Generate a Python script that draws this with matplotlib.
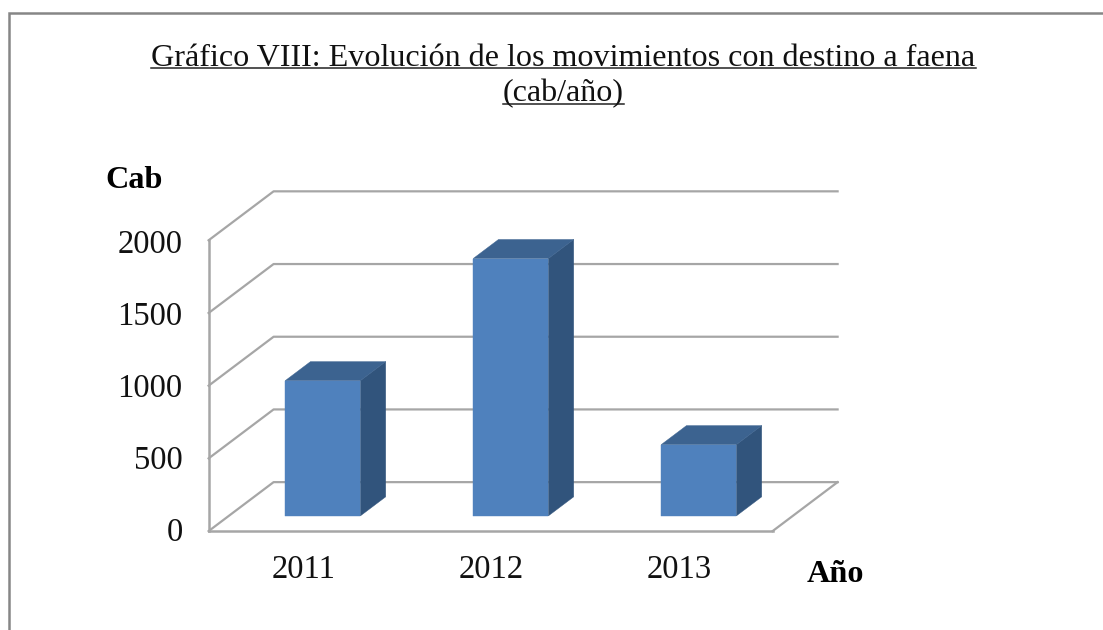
import matplotlib
matplotlib.use('Agg')
import matplotlib.pyplot as plt
from matplotlib.lines import Line2D
from matplotlib.patches import Polygon

# Data
years = ['2011', '2012', '2013']
cabezas = [930, 1770, 490]
y_ticks = [0, 500, 1000, 1500, 2000]

W, H = 1103, 630
grid_color = '#a6a6a6'
front_color = '#4f81bd'
top_color = '#3c6390'
side_color = '#31547c'

plt.rcParams['font.family'] = ['Liberation Serif']

fig = plt.figure(figsize=(W / 100, H / 100), dpi=100)

# Axes = front plane of the fake 3D box, in pixels of the picture
left, right, top, bottom = 208.6, 772.6, 240.3, 531.1
ax = fig.add_axes([left / W, 1 - bottom / H, (right - left) / W, (bottom - top) / H])
ax.set_xlim(0, 3)
ax.set_ylim(0, 2000)
ax.axis('off')

# Depth of the box as an offset in data units
depth_x = 65 / 188
depth_y = 49 / 291 * 2000


def shift(x, y, d):
    return (x + d * depth_x, y + d * depth_y)


# Walls and gridlines
for t in y_ticks:
    x0, y0 = shift(0, t, 0)
    x1, y1 = shift(0, t, 1)
    x2, y2 = shift(3, t, 1)
    ax.plot([x0, x1, x2], [y0, y1, y2], color=grid_color, lw=1.6, clip_on=False)

# Front edge of floor and left axis
ax.plot([0, 0], [0, 2000], color=grid_color, lw=1.8, clip_on=False)
ax.plot([0, 3], [0, 0], color=grid_color, lw=1.8, clip_on=False)
ax.plot([3, 3 + depth_x], [0, depth_y], color=grid_color, lw=1.6, clip_on=False)

# Bars
bar_w = 0.4
d0 = 0.31
d1 = 0.70
for i, val in enumerate(cabezas):
    xl = i + 0.5 - bar_w / 2
    xr = i + 0.5 + bar_w / 2
    side = [shift(xr, 0, d0), shift(xr, 0, d1), shift(xr, val, d1), shift(xr, val, d0)]
    tp = [shift(xl, val, d0), shift(xr, val, d0), shift(xr, val, d1), shift(xl, val, d1)]
    front = [shift(xl, 0, d0), shift(xr, 0, d0), shift(xr, val, d0), shift(xl, val, d0)]
    ax.add_patch(Polygon(side, closed=True, fc=side_color, ec=side_color, lw=0.3, zorder=3, clip_on=False))
    ax.add_patch(Polygon(tp, closed=True, fc=top_color, ec=top_color, lw=0.3, zorder=3, clip_on=False))
    ax.add_patch(Polygon(front, closed=True, fc=front_color, ec=front_color, lw=0.3, zorder=4, clip_on=False))

# Tick labels, their spacing is a little tighter than the gridlines
for t in y_ticks:
    ax.annotate(str(t), (0, t), xytext=(-26, -1.5 - 2.5 * t / 2000), textcoords='offset pixels', ha='right',
                va='center', fontsize=23.5, color='#111111', annotation_clip=False)
for i, year in enumerate(years):
    ax.annotate(year, (i + 0.5, 0), xytext=(1, -39), textcoords='offset pixels', ha='center',
                va='center', fontsize=23.5, color='#111111', annotation_clip=False)

# Axis names
fig.text(134 / W, 1 - 180 / H, 'Cab', ha='center', va='center', fontsize=23.2, fontweight='bold')
fig.text(835 / W, 1 - 574 / H, 'Año', ha='center', va='center', fontsize=23.2, fontweight='bold')

# Title, underlined by hand
title_lines = ['Gráfico VIII: Evolución de los movimientos con destino a faena', '(cab/año)']
title_y = [58, 94]
under_y = [67.5, 104]
fig.canvas.draw()
for line, ty, uy in zip(title_lines, title_y, under_y):
    txt = fig.text(563.5 / W, 1 - ty / H, line, ha='center', va='center', fontsize=23.1, color='#111111')
    box = txt.get_window_extent(fig.canvas.get_renderer())
    fig.add_artist(Line2D([box.x0 / W, box.x1 / W], [1 - uy / H, 1 - uy / H],
                          color='#222222', lw=1.1, transform=fig.transFigure))

# Outer frame, only left and top fall inside the picture
fig.add_artist(Line2D([9 / W, 9 / W, 1], [0, 1 - 13 / H, 1 - 13 / H], color='#868686', lw=1.8,
                      transform=fig.transFigure, solid_joinstyle='miter'))

fig.savefig('out.png', dpi=100)
